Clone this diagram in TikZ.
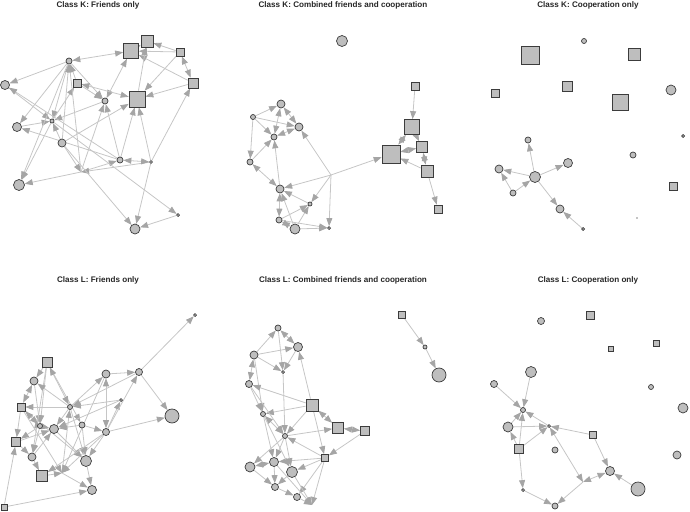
\documentclass[tikz,border=0pt]{standalone}
\usepackage{fontspec}
\setmainfont{Liberation Sans}
\usetikzlibrary{arrows.meta}
\pgfdeclarelayer{bg}
\pgfsetlayers{bg,main}
\definecolor{nodefill}{RGB}{190,190,190}
\definecolor{nodeline}{RGB}{60,60,60}
\definecolor{edgecol}{RGB}{198,198,198}
\definecolor{tipcol}{RGB}{165,165,165}
\tikzset{
  cir/.style={circle,draw=nodeline,fill=nodefill,inner sep=0pt,minimum size=#1pt,line width=0.7pt},
  sq/.style={rectangle,draw=nodeline,fill=nodefill,inner sep=0pt,minimum size=#1pt,line width=0.7pt},
  ed/.style={draw=edgecol,line width=0.8pt,-{Triangle[length=8pt,width=6pt,color=tipcol]}},
  edb/.style={draw=edgecol,line width=0.8pt,{Triangle[length=8pt,width=6pt,color=tipcol]}-{Triangle[length=8pt,width=6pt,color=tipcol]}},
  ttl/.style={font=\bfseries\fontsize{8.1}{9}\selectfont,text=black!85,inner sep=0pt}
}
\begin{document}
\begin{tikzpicture}[x=1pt,y=-1pt]
\useasboundingbox (0,0) rectangle (690,511);
% titles
\node[ttl] (t1) at (98,5) {Class K: Friends only};
\node[ttl] (t2) at (343,5) {Class K: Combined friends and cooperation};
\node[ttl] (t3) at (588,5) {Class K: Cooperation only};
\node[ttl] (t4) at (98,280) {Class L: Friends only};
\node[ttl] (t5) at (343,280) {Class L: Combined friends and cooperation};
\node[ttl] (t6) at (588,280) {Class L: Cooperation only};
% ---------------- panel 1
\node[sq=15] (a1) at (131,51) {};
\node[sq=12] (a2) at (147,41) {};
\node[sq=8] (a3) at (180,52) {};
\node[sq=10] (a4) at (193,83) {};
\node[sq=16] (a5) at (137,99) {};
\node[sq=8] (a6) at (77,83) {};
\node[cir=6] (a7) at (69,61) {};
\node[cir=9] (a8) at (5,85) {};
\node[cir=6] (a9) at (105,101) {};
\node[cir=4] (a10) at (52,121) {};
\node[cir=9] (a11) at (17,127) {};
\node[cir=8] (a12) at (62,143) {};
\node[cir=6] (a13) at (120,160) {};
\node[cir=3] (a14) at (151,162) {};
\coordinate (a15) at (81,172);
\node[cir=11] (a16) at (19,185) {};
\node[cir=3] (a17) at (178,215) {};
\node[cir=10] (a18) at (135,229) {};
\begin{pgfonlayer}{bg}
\foreach \s/\t in {a7/a8,a7/a11,a7/a10,a12/a7,a10/a6,a9/a10,a8/a10,a13/a8,a11/a10,
  a10/a16,a15/a16,a15/a13,a14/a15,a12/a15,a15/a9,a13/a5,a13/a9,a14/a5,a14/a4,a14/a18,
  a17/a18,a10/a17,a12/a18,a13/a11,a12/a5,a3/a2,a3/a1,a4/a1,a3/a5,a5/a2,a7/a9,a7/a16,
  a6/a7,a12/a10,a4/a5,a15/a7,a6/a9}
  \draw[ed] (\s) -- (\t);
\foreach \s/\t in {a7/a1,a13/a14,a3/a4,a1/a2,a9/a1,a6/a5}
  \draw[edb] (\s) -- (\t);
\end{pgfonlayer}
% ---------------- panel 2
\node[cir=11] (b1) at (342,41) {};
\node[sq=8] (b2) at (415,86) {};
\node[sq=15] (b3) at (412,127) {};
\node[sq=11] (b4) at (422,147) {};
\node[sq=18] (b5) at (391,154) {};
\node[sq=12] (b6) at (427,171) {};
\node[sq=8] (b7) at (438,209) {};
\node[cir=8] (b8) at (281,104) {};
\node[cir=5] (b9) at (253,117) {};
\node[cir=8] (b10) at (299,127) {};
\node[cir=6] (b11) at (274,137) {};
\node[cir=6] (b12) at (250,162) {};
\coordinate (b13) at (331,175);
\node[cir=8] (b14) at (280,189) {};
\node[cir=4] (b15) at (310,204) {};
\node[cir=6] (b16) at (279,220) {};
\node[cir=10] (b17) at (295,229) {};
\node[cir=3] (b18) at (329,228) {};
\begin{pgfonlayer}{bg}
\foreach \s/\t in {b2/b3,b6/b5,b6/b7,b13/b5,b13/b10,b13/b14,b13/b15,b13/b18,b9/b8,
  b9/b10,b9/b11,b9/b12,b12/b11,b14/b11,b15/b14,b17/b14,b16/b15,b17/b15,b16/b18,b17/b18}
  \draw[ed] (\s) -- (\t);
\foreach \s/\t in {b3/b5,b4/b5,b3/b4,b4/b6,b8/b10,b8/b11,b10/b11,b12/b14,b16/b14,b16/b17}
  \draw[edb] (\s) -- (\t);
\end{pgfonlayer}
% ---------------- panel 3
\node[cir=5] (c1) at (584,41) {};
\node[sq=18] (c2) at (530,55) {};
\node[sq=12] (c3) at (634,54) {};
\node[sq=10] (c4) at (567,86) {};
\node[sq=8] (c5) at (495,93) {};
\node[sq=16] (c6) at (620,102) {};
\node[cir=10] (c7) at (671,90) {};
\node[cir=3] (c8) at (683,136) {};
\node[cir=6] (c9) at (633,155) {};
\node[sq=8] (c10) at (673,186) {};
\node[circle,fill=black,inner sep=0pt,minimum size=1.3pt] (c11) at (637,218) {};
\node[cir=6] (c12) at (528,140) {};
\node[cir=8] (c13) at (499,169) {};
\node[cir=11] (c14) at (535,177) {};
\node[cir=9] (c15) at (568,163) {};
\node[cir=6] (c16) at (513,193) {};
\node[cir=8] (c17) at (560,209) {};
\node[cir=3] (c18) at (583,229) {};
\begin{pgfonlayer}{bg}
\foreach \s/\t in {c14/c12,c14/c13,c14/c15,c14/c17,c16/c13,c16/c14,c18/c17}
  \draw[ed] (\s) -- (\t);
\end{pgfonlayer}
% ---------------- panel 4
\node[cir=3] (d1) at (195,315) {};
\node[sq=10] (d2) at (47,362) {};
\node[cir=8] (d3) at (34,381) {};
\node[cir=8] (d4) at (106,374) {};
\node[cir=7] (d5) at (139,372) {};
\node[sq=8] (d6) at (21,407) {};
\node[cir=5] (d7) at (70,407) {};
\node[cir=3] (d8) at (121,400) {};
\node[cir=14] (d9) at (172,416) {};
\node[cir=5] (d10) at (40,426) {};
\node[cir=9] (d11) at (54,429) {};
\node[cir=6] (d12) at (82,425) {};
\node[cir=7] (d13) at (106,432) {};
\node[sq=9] (d14) at (16,442) {};
\node[cir=8] (d15) at (32,457) {};
\node[cir=11] (d16) at (86,461) {};
\node[sq=11] (d17) at (42,476) {};
\coordinate (d18) at (62,473);
\node[cir=9] (d19) at (92,490) {};
\node[sq=6] (d20) at (4,507) {};
\begin{pgfonlayer}{bg}
\foreach \s/\t in {d5/d1,d5/d9,d4/d5,d13/d9,d5/d7,d7/d4,d8/d7,d13/d8,d13/d5,d12/d13,
  d2/d3,d7/d6,d2/d10,d3/d10,d6/d14,d6/d16,d12/d11,d7/d11,d7/d16,d13/d16,d16/d19,
  d14/d15,d20/d14,d20/d19,d18/d19,d15/d17,d10/d15,d17/d18,d18/d7,d13/d18,d15/d11,
  d14/d11,d6/d18,d2/d15,d7/d3,d10/d14,d11/d16,d2/d12,d12/d16,d13/d17,d4/d18,d8/d11}
  \draw[ed] (\s) -- (\t);
\foreach \s/\t in {d4/d13,d3/d6,d2/d7,d10/d11,d6/d10}
  \draw[edb] (\s) -- (\t);
\end{pgfonlayer}
% ---------------- panel 5
\node[sq=7] (e1) at (402,315) {};
\node[cir=4] (e2) at (425,347) {};
\node[cir=14] (e3) at (439,375) {};
\node[cir=6] (e4) at (278,328) {};
\node[cir=9] (e5) at (298,347) {};
\node[cir=8] (e6) at (254,355) {};
\node[cir=3] (e7) at (283,372) {};
\node[cir=7] (e8) at (249,384) {};
\node[sq=12] (e9) at (312,405) {};
\node[cir=5] (e10) at (263,414) {};
\node[sq=11] (e11) at (338,428) {};
\node[sq=9] (e12) at (365,431) {};
\node[cir=5] (e13) at (285,436) {};
\node[sq=7] (e14) at (325,458) {};
\node[cir=9] (e15) at (274,462) {};
\node[cir=10] (e16) at (250,467) {};
\node[cir=11] (e17) at (292,472) {};
\node[cir=7] (e18) at (275,487) {};
\node[cir=7] (e19) at (297,497) {};
\coordinate (e20) at (312,505);
\begin{pgfonlayer}{bg}
\foreach \s/\t in {e1/e2,e2/e3,e6/e4,e6/e5,e6/e7,e4/e7,e5/e7,e9/e5,e8/e10,e6/e10,
  e9/e8,e9/e10,e7/e13,e9/e13,e9/e14,e12/e14,e13/e11,e14/e13,e14/e15,e14/e17,e14/e19,
  e14/e20,e10/e15,e13/e16,e13/e15,e15/e18,e16/e18,e17/e18,e18/e19,e19/e20,e17/e20,
  e13/e17,e10/e17,e15/e20,e8/e13}
  \draw[ed] (\s) -- (\t);
\foreach \s/\t in {e4/e5,e6/e8,e9/e11,e11/e12,e16/e15,e10/e13}
  \draw[edb] (\s) -- (\t);
\end{pgfonlayer}
% ---------------- panel 6
\node[cir=7] (f1) at (541,321) {};
\node[sq=8] (f2) at (590,315) {};
\node[sq=6] (f3) at (656,343) {};
\node[sq=5] (f4) at (611,349) {};
\node[cir=11] (f5) at (531,372) {};
\node[cir=7] (f6) at (494,384) {};
\node[cir=5] (f7) at (651,387) {};
\node[cir=10] (f8) at (683,408) {};
\node[cir=5] (f9) at (523,410) {};
\node[cir=10] (f10) at (508,427) {};
\node[cir=3] (f11) at (549,426) {};
\node[sq=7] (f12) at (593,435) {};
\node[sq=9] (f13) at (519,449) {};
\node[cir=6] (f14) at (555,450) {};
\node[cir=8] (f15) at (677,455) {};
\node[cir=9] (f16) at (610,471) {};
\coordinate (f17) at (583,482);
\node[cir=14] (f18) at (638,489) {};
\node[cir=3] (f19) at (523,490) {};
\node[cir=6] (f20) at (555,506) {};
\begin{pgfonlayer}{bg}
\foreach \s/\t in {f6/f9,f5/f9,f10/f9,f13/f9,f11/f9,f10/f11,f12/f11,f13/f11,f13/f10,
  f12/f16,f18/f16,f13/f19,f19/f20,f17/f20}
  \draw[ed] (\s) -- (\t);
\foreach \s/\t in {f11/f17,f17/f16}
  \draw[edb] (\s) -- (\t);
\end{pgfonlayer}
\end{tikzpicture}
\end{document}
